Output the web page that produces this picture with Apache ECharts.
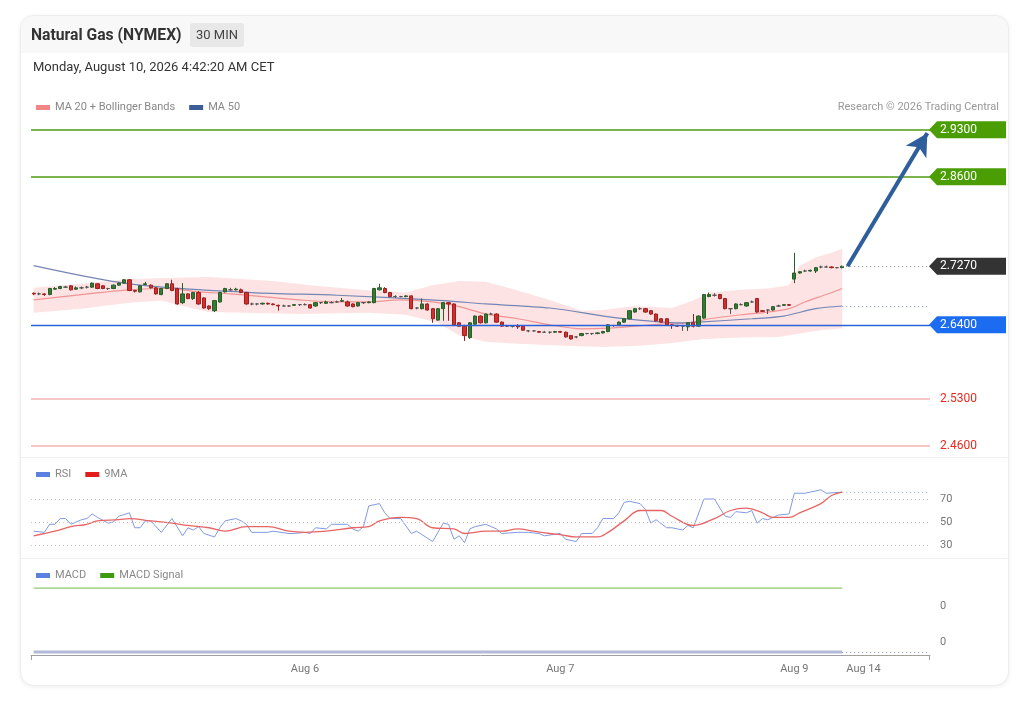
<!DOCTYPE html>
<html>
<head>
<meta charset="utf-8">
<script src="https://cdn.jsdelivr.net/npm/echarts@6/dist/echarts.min.js"></script>
<style>
  html, body { margin: 0; padding: 0; background: #fff; font-family: Roboto, "Liberation Sans", sans-serif; }
  .abs { position: absolute; }
  #card { left: 20px; top: 15px; width: 987px; height: 669px; border: 1px solid #ececec; border-radius: 14px; box-shadow: 0 1px 4px rgba(0,0,0,0.07); background: #fff; overflow: hidden; }
  #hdr { left: 0; top: 0; width: 100%; height: 37px; background: #f8f8f8; }
  #title { left: 31px; top: 26px; font-size: 15.7px; font-weight: 700; color: #333; line-height: 18px; white-space: nowrap; }
  #badge { left: 190px; top: 23px; width: 54px; height: 24px; line-height: 24px; background: #e8e8e8; border-radius: 3px; text-align: center; font-size: 13px; color: #444; }
  #date { left: 33px; top: 59px; font-size: 13px; color: #333; line-height: 16px; white-space: nowrap; }
  #credit { right: 27px; top: 100px; font-size: 11px; color: #999; line-height: 13px; white-space: nowrap; }
  .sep { left: 21px; width: 986px; height: 1px; background: #efefef; }
  #chart { left: 0; top: 0; width: 1026px; height: 703px; }
</style>
</head>
<body>
<div id="card" class="abs"><div id="hdr" class="abs"></div></div>
<div class="abs sep" style="top:457px"></div>
<div class="abs sep" style="top:558px"></div>
<div id="chart" class="abs"></div>
<div id="title" class="abs">Natural Gas (NYMEX)</div>
<div id="badge" class="abs">30 MIN</div>
<div id="date" class="abs">Monday, August 10, 2026 4:42:20 AM CET</div>
<div id="credit" class="abs">Research © 2026 Trading Central</div>
<script>
// ---------- DATA ----------
const slotCount = 169; // 153 candles + future slots
const categories = Array.from({ length: slotCount }, (_, i) => String(i));
const tickIndex = [51, 99, 143, 156];
const tickText = ['Aug 6', 'Aug 7', 'Aug 9', 'Aug 14'];

// [open, close, low, high]
const candles = [
  [2.687,2.686,2.684,2.688],[2.686,2.686,2.684,2.688],[2.686,2.685,2.683,2.687],[2.685,2.694,2.684,2.695],[2.693,2.694,2.692,2.696],
  [2.694,2.697,2.693,2.698],[2.696,2.696,2.695,2.698],[2.698,2.692,2.691,2.699],[2.693,2.695,2.692,2.697],[2.695,2.695,2.693,2.697],
  [2.696,2.696,2.694,2.698],[2.696,2.702,2.695,2.703],[2.701,2.694,2.693,2.702],[2.698,2.694,2.693,2.699],[2.694,2.694,2.692,2.695],
  [2.694,2.699,2.693,2.700],[2.699,2.702,2.698,2.703],[2.702,2.707,2.701,2.708],[2.707,2.691,2.690,2.708],[2.691,2.690,2.688,2.692],
  [2.689,2.698,2.688,2.699],[2.700,2.701,2.699,2.704],[2.699,2.695,2.694,2.700],[2.695,2.686,2.685,2.696],[2.685,2.694,2.684,2.695],
  [2.694,2.701,2.693,2.702],[2.701,2.691,2.690,2.707],[2.694,2.671,2.670,2.695],[2.673,2.686,2.671,2.702],[2.686,2.679,2.678,2.687],
  [2.679,2.688,2.677,2.689],[2.688,2.671,2.670,2.690],[2.680,2.665,2.664,2.681],[2.668,2.664,2.662,2.669],[2.661,2.676,2.659,2.677],
  [2.674,2.688,2.673,2.689],[2.689,2.694,2.688,2.695],[2.692,2.692,2.691,2.695],[2.692,2.693,2.691,2.695],[2.692,2.688,2.687,2.694],
  [2.688,2.671,2.670,2.689],[2.671,2.671,2.669,2.673],[2.671,2.671,2.669,2.672],[2.671,2.672,2.670,2.673],[2.672,2.671,2.670,2.673],
  [2.671,2.670,2.669,2.672],[2.669,2.668,2.661,2.670],[2.668,2.668,2.667,2.670],[2.668,2.668,2.667,2.669],[2.669,2.670,2.668,2.671],
  [2.670,2.670,2.668,2.671],[2.670,2.670,2.669,2.672],[2.670,2.665,2.664,2.671],[2.668,2.673,2.667,2.674],[2.673,2.673,2.671,2.674],
  [2.672,2.674,2.671,2.676],[2.673,2.673,2.672,2.675],[2.674,2.674,2.673,2.676],[2.675,2.676,2.674,2.680],[2.674,2.668,2.667,2.676],
  [2.671,2.667,2.666,2.672],[2.668,2.673,2.667,2.674],[2.673,2.673,2.671,2.674],[2.673,2.674,2.672,2.675],[2.673,2.694,2.672,2.695],
  [2.692,2.695,2.691,2.701],[2.694,2.688,2.687,2.696],[2.688,2.682,2.681,2.689],[2.682,2.682,2.680,2.684],[2.682,2.682,2.681,2.683],
  [2.682,2.683,2.681,2.684],[2.683,2.664,2.663,2.684],[2.665,2.665,2.663,2.666],[2.664,2.671,2.663,2.679],[2.671,2.662,2.661,2.672],
  [2.664,2.649,2.643,2.665],[2.647,2.664,2.646,2.665],[2.664,2.673,2.646,2.674],[2.673,2.671,2.646,2.674],[2.671,2.640,2.639,2.672],
  [2.643,2.638,2.637,2.644],[2.638,2.624,2.616,2.640],[2.621,2.643,2.619,2.644],[2.641,2.653,2.640,2.654],[2.653,2.643,2.642,2.654],
  [2.643,2.656,2.642,2.657],[2.656,2.656,2.655,2.658],[2.656,2.644,2.643,2.657],[2.644,2.638,2.637,2.645],[2.638,2.638,2.637,2.640],
  [2.638,2.638,2.636,2.639],[2.638,2.637,2.634,2.641],[2.638,2.632,2.631,2.639],[2.631,2.631,2.629,2.632],[2.631,2.631,2.630,2.632],
  [2.630,2.629,2.628,2.631],[2.629,2.629,2.628,2.631],[2.629,2.629,2.627,2.630],[2.629,2.630,2.628,2.631],[2.630,2.629,2.628,2.631],
  [2.629,2.622,2.621,2.630],[2.624,2.619,2.618,2.625],[2.622,2.622,2.620,2.623],[2.624,2.627,2.623,2.628],[2.627,2.627,2.626,2.628],
  [2.627,2.627,2.625,2.628],[2.627,2.628,2.626,2.629],[2.628,2.630,2.627,2.631],[2.630,2.640,2.629,2.641],[2.639,2.639,2.637,2.640],
  [2.640,2.644,2.639,2.645],[2.644,2.649,2.643,2.650],[2.649,2.661,2.648,2.662],[2.659,2.664,2.658,2.665],[2.664,2.664,2.662,2.666],
  [2.664,2.659,2.658,2.665],[2.661,2.656,2.655,2.662],[2.656,2.646,2.645,2.657],[2.649,2.644,2.643,2.650],[2.649,2.640,2.639,2.650],
  [2.640,2.639,2.634,2.641],[2.639,2.638,2.637,2.640],[2.638,2.638,2.631,2.640],[2.637,2.643,2.631,2.644],[2.643,2.638,2.636,2.656],
  [2.638,2.653,2.637,2.654],[2.650,2.685,2.649,2.686],[2.682,2.685,2.681,2.688],[2.684,2.684,2.682,2.687],[2.685,2.679,2.678,2.686],
  [2.679,2.664,2.663,2.680],[2.664,2.664,2.656,2.665],[2.664,2.671,2.663,2.672],[2.670,2.670,2.669,2.672],[2.668,2.673,2.667,2.674],
  [2.674,2.674,2.673,2.676],[2.679,2.659,2.658,2.680],[2.661,2.660,2.659,2.662],[2.662,2.662,2.656,2.663],[2.662,2.667,2.661,2.668],
  [2.668,2.668,2.667,2.670],[2.669,2.670,2.668,2.671],[2.670,2.669,2.668,2.671],[2.708,2.717,2.702,2.747],[2.717,2.719,2.716,2.720],
  [2.720,2.720,2.719,2.722],[2.720,2.721,2.719,2.722],[2.720,2.725,2.717,2.726],[2.726,2.726,2.724,2.728],[2.726,2.726,2.725,2.728],
  [2.726,2.725,2.724,2.727],[2.725,2.725,2.724,2.726],[2.725,2.727,2.724,2.728]
];

// [slot index, value] readings
const ma20 = [[0,2.677],[9,2.685],[18,2.692],[25,2.694],[31,2.689],[37,2.686],[43,2.682],[50,2.677],[57,2.674],[63,2.674],[69,2.677],[75,2.674],[80,2.667],[85,2.656],[91,2.649],[97,2.640],[103,2.634],[108,2.635],[113,2.638],[118,2.641],[123,2.643],[127,2.649],[133,2.655],[138,2.659],[142,2.664],[145,2.674],[149,2.685],[152,2.694]];
const upperBand = [[0,2.695],[9,2.701],[18,2.708],[27,2.710],[33,2.711],[39,2.708],[45,2.705],[52,2.699],[63,2.691],[70,2.688],[75,2.699],[80,2.705],[85,2.704],[91,2.691],[97,2.677],[103,2.661],[107,2.662],[113,2.668],[120,2.665],[124,2.676],[127,2.688],[133,2.692],[138,2.694],[142,2.699],[144,2.728],[147,2.740],[150,2.747],[152,2.753]];
const lowerBand = [[0,2.658],[9,2.664],[18,2.673],[24,2.676],[28,2.668],[33,2.659],[40,2.658],[50,2.656],[63,2.658],[70,2.655],[76,2.643],[80,2.624],[85,2.615],[91,2.612],[100,2.609],[107,2.607],[114,2.609],[120,2.613],[126,2.619],[133,2.621],[140,2.622],[144,2.627],[148,2.632],[152,2.635]];
const ma50 = [[0,2.728],[18,2.701],[41,2.688],[57,2.684],[77,2.676],[85,2.671],[97,2.665],[110,2.650],[122,2.643],[125,2.644],[135,2.649],[141,2.653],[147,2.664],[152,2.668]];

const rsi = [[0,42],[2,41],[3,48],[4,48],[5,53],[6,53],[7,48],[9,52],[10,53],[11,57],[12,54],[14,49],[15,50],[16,55],[18,58],[19,45],[20,45],[21,51],[22,51],[24,41],[26,53],[28,38],[29,45],[30,43],[31,46],[32,40],[34,37],[35,45],[36,51],[38,53],[39,51],[40,48],[41,41],[44,41],[45,42],[48,40],[49,40],[51,41],[52,40],[53,45],[55,44],[56,48],[59,48],[60,44],[61,42],[62,46],[63,64],[65,66],[66,58],[67,53],[69,53],[71,40],[72,42],[75,33],[77,49],[78,48],[79,35],[80,38],[81,32],[82,44],[83,46],[85,48],[87,44],[88,40],[91,41],[92,41],[93,41],[95,40],[96,38],[99,40],[100,35],[102,33],[103,40],[105,40],[106,45],[107,53],[109,53],[110,58],[111,67],[112,68],[114,66],[115,61],[116,49],[117,52],[119,45],[120,45],[122,43],[123,47],[124,45],[126,70],[128,70],[129,62],[130,55],[131,54],[132,59],[134,58],[135,60],[136,49],[137,53],[138,52],[140,56],[142,57],[143,75],[145,75],[148,78],[149,75],[152,76]];
const rsiMA9 = [[0,38],[4,42],[7,46],[10,48],[12,51],[16,52],[18,53],[22,51],[26,49],[29,47],[33,45],[36,42],[40,46],[44,46],[48,42],[51,41],[55,42],[60,45],[63,46],[65,51],[69,54],[72,53],[75,45],[79,44],[81,40],[85,42],[88,42],[91,44],[94,42],[97,40],[99,39],[102,37],[106,37],[108,41],[111,51],[114,60],[118,60],[120,55],[124,47],[128,53],[131,60],[134,62],[137,58],[139,54],[142,54],[144,58],[148,66],[150,73],[152,76]];
const rsiLevels = [30, 50, 70];

const macd = [[0,-0.00028],[152,-0.00028]];
const macdSignal = [[0,0.0015],[152,0.0015]];
const macdLabels = [0, 0.001];

const levelValues = [2.93, 2.86, 2.727, 2.64, 2.53, 2.46];
const lastIndex = 152;
const extendIndex = 168;
const arrowFrom = [153, 2.727];
const arrowTo = [168, 2.925];

// ---------- STYLES ----------
const GREEN = '#4c9b10', BLUE = '#2a63d8', PALE_RED = '#f4b4b4';
const levelStyles = [
  { line: { color: GREEN, width: 1.6 }, box: '#4a9e04', text: '#fff' },
  { line: { color: GREEN, width: 1.6 }, box: '#4a9e04', text: '#fff' },
  { line: null, box: '#333333', text: '#fff' },
  { line: { color: BLUE, width: 1.3 }, box: '#1b6cf0', text: '#fff' },
  { line: { color: PALE_RED, width: 1.5 }, box: null, text: '#e8291f' },
  { line: { color: PALE_RED, width: 1.5 }, box: null, text: '#e8291f' }
];

const chart = echarts.init(document.getElementById('chart'), null, { renderer: 'canvas' });
const FONT = 'Roboto, "Liberation Sans", sans-serif';

const levelLines = [];
levelValues.forEach((v, i) => {
  if (levelStyles[i].line) levelLines.push({ yAxis: v, lineStyle: Object.assign({ type: 'solid' }, levelStyles[i].line) });
});
levelLines.push([{ coord: [lastIndex, levelValues[2]] }, { coord: [extendIndex, levelValues[2]], lineStyle: { color: '#999', type: [1, 3], width: 1 } }]);
levelLines.push([
  { coord: arrowFrom, symbol: 'none' },
  { coord: arrowTo, symbol: 'arrow', symbolSize: [18, 22], lineStyle: { color: '#2f5e9c', width: 4, type: 'solid' } }
]);

const legendCommon = { left: 31, itemWidth: 14, itemHeight: 5, itemGap: 14, icon: 'rect', textStyle: { fontSize: 11, color: '#888', fontFamily: FONT } };

const option = {
  animation: false,
  textStyle: { fontFamily: FONT },
  legend: [
    Object.assign({}, legendCommon, { top: 97, data: [
      { name: 'MA 20 + Bollinger Bands', itemStyle: { color: '#f28686' } },
      { name: 'MA 50', itemStyle: { color: '#3c5e97' } }] }),
    Object.assign({}, legendCommon, { top: 464, data: [
      { name: 'RSI', itemStyle: { color: '#5c80e0' } },
      { name: '9MA', itemStyle: { color: '#e41c1c' } }] }),
    Object.assign({}, legendCommon, { top: 565, data: [
      { name: 'MACD', itemStyle: { color: '#5c80e0' } },
      { name: 'MACD Signal', itemStyle: { color: '#3f9a12' } }] })
  ],
  grid: [
    { left: 31, right: 96, top: 119, height: 339 },
    { left: 31, right: 96, top: 464.5, height: 92 },
    { left: 31, right: 96, top: 560, height: 95 }
  ],
  xAxis: [0, 1, 2].map(g => ({
    type: 'category', gridIndex: g, data: categories, boundaryGap: true, show: g === 2,
    axisLine: { show: true, onZero: false, lineStyle: { color: '#a0a0a0' } },
    axisTick: { show: false },
    splitLine: { show: false },
    axisLabel: {
      interval: (i) => tickIndex.indexOf(i) >= 0,
      formatter: (v, i) => { const k = tickIndex.indexOf(i); return k >= 0 ? tickText[k] : ''; },
      color: '#777', fontSize: 11, margin: 9
    }
  })),
  yAxis: [
    { type: 'value', gridIndex: 0, min: 2.442, max: 2.946, show: false, splitLine: { show: false } },
    { type: 'value', gridIndex: 1, min: 20, max: 100, position: 'right',
      axisLine: { show: false }, axisTick: { show: false }, splitLine: { show: false },
      axisLabel: { customValues: rsiLevels, color: '#777', fontSize: 11, margin: 10 } },
    { type: 'value', gridIndex: 2, min: -0.00036, max: 0.00228, position: 'right',
      axisLine: { show: false }, axisTick: { show: false }, splitLine: { show: false },
      axisLabel: { customValues: macdLabels, formatter: (v) => Math.abs(v).toFixed(0), color: '#777', fontSize: 11, margin: 10 } }
  ],
  graphic: [
    { type: 'line', shape: { x1: 31.5, y1: 655, x2: 31.5, y2: 660 }, style: { stroke: '#a0a0a0', lineWidth: 1 } },
    { type: 'line', shape: { x1: 929.5, y1: 655, x2: 929.5, y2: 660 }, style: { stroke: '#a0a0a0', lineWidth: 1 } }
  ],
  series: [
    {
      type: 'custom', name: 'MA 20 + Bollinger Bands', xAxisIndex: 0, yAxisIndex: 0, silent: true, z: 1,
      data: [[0, upperBand[0][1]]],
      renderItem: (params, api) => {
        const pts = upperBand.map(p => api.coord(p)).concat(lowerBand.slice().reverse().map(p => api.coord(p)));
        return { type: 'polygon', shape: { points: pts, smooth: 0 }, style: { fill: '#fde3e3' } };
      }
    },
    {
      type: 'line', name: 'MA 20 + Bollinger Bands', xAxisIndex: 0, yAxisIndex: 0, data: ma20, smooth: 0.3,
      showSymbol: false, symbol: 'none', lineStyle: { color: '#f29494', width: 1.2 }, itemStyle: { color: '#f28686' }, z: 2
    },
    {
      type: 'line', name: 'MA 50', xAxisIndex: 0, yAxisIndex: 0, data: ma50, smooth: 0.3,
      showSymbol: false, symbol: 'none', lineStyle: { color: '#7486b6', width: 1.2 }, itemStyle: { color: '#3c5e97' }, z: 2,
      markLine: { silent: true, symbol: ['none', 'none'], label: { show: false },
        data: [[{ coord: [lastIndex, ma50[ma50.length - 1][1]] }, { coord: [extendIndex, ma50[ma50.length - 1][1]] }]],
        lineStyle: { color: '#8d9cc8', type: [1, 3], width: 1 } }
    },
    {
      type: 'candlestick', name: 'Price', xAxisIndex: 0, yAxisIndex: 0, data: candles, barWidth: '70%', z: 3,
      itemStyle: { color: '#2e7d32', color0: '#d32f2f', borderColor: '#2a5d2a', borderColor0: '#9e1f1f', borderColorDoji: '#555', borderWidth: 1 },
      markLine: { silent: true, symbol: ['none', 'none'], label: { show: false }, data: levelLines, z: 4 }
    },
    {
      type: 'custom', name: 'Levels', xAxisIndex: 0, yAxisIndex: 0, silent: true, z: 10, clip: false,
      data: levelValues.map((v, i) => [i, v]),
      encode: { x: 0, y: 1 },
      renderItem: (params, api) => {
        const i = params.dataIndex;
        const v = api.value(1);
        const y = api.coord([0, v])[1];
        const x = params.coordSys.x + params.coordSys.width;
        const st = levelStyles[i];
        const children = [];
        if (st.box) {
          children.push({ type: 'polygon', shape: { points: [[x - 1, y], [x + 7, y - 8.5], [x + 76, y - 8.5], [x + 76, y + 8.5], [x + 7, y + 8.5]] }, style: { fill: st.box } });
        }
        children.push({ type: 'text', x: x + 10, y: y, style: { text: v.toFixed(4), fill: st.text, fontSize: 12, fontFamily: FONT, verticalAlign: 'middle', align: 'left' } });
        return { type: 'group', children };
      }
    },
    {
      type: 'line', name: 'RSI', xAxisIndex: 1, yAxisIndex: 1, data: rsi, showSymbol: false, symbol: 'none',
      lineStyle: { color: '#8099e2', width: 1 }, itemStyle: { color: '#5c80e0' }, z: 3,
      markLine: { silent: true, symbol: ['none', 'none'], label: { show: false },
        data: rsiLevels.map(v => ({ yAxis: v })).concat([[{ coord: [lastIndex, rsi[rsi.length - 1][1]] }, { coord: [extendIndex, rsi[rsi.length - 1][1]], lineStyle: { color: '#9fb1e8', type: [1, 3], width: 1 } }]]),
        lineStyle: { color: '#c4c4c4', type: [1, 3], width: 1 } }
    },
    {
      type: 'line', name: '9MA', xAxisIndex: 1, yAxisIndex: 1, data: rsiMA9, smooth: 0.4, showSymbol: false, symbol: 'none',
      lineStyle: { color: '#e86464', width: 1.3 }, itemStyle: { color: '#e41c1c' }, z: 4
    },
    {
      type: 'line', name: 'MACD', xAxisIndex: 2, yAxisIndex: 2, data: macd, showSymbol: false, symbol: 'none',
      lineStyle: { color: '#b1bad9', width: 3 }, itemStyle: { color: '#5c80e0' }, z: 3,
      markLine: { silent: true, symbol: ['none', 'none'], label: { show: false },
        data: [[{ coord: [lastIndex, macd[macd.length - 1][1]] }, { coord: [extendIndex, macd[macd.length - 1][1]] }]],
        lineStyle: { color: '#7f97e0', type: [1, 3], width: 1 } }
    },
    {
      type: 'line', name: 'MACD Signal', xAxisIndex: 2, yAxisIndex: 2, data: macdSignal, showSymbol: false, symbol: 'none',
      lineStyle: { color: '#8fc96c', width: 1.3 }, itemStyle: { color: '#3f9a12' }, z: 3
    }
  ]
};
chart.setOption(option);
</script>
</body>
</html>
